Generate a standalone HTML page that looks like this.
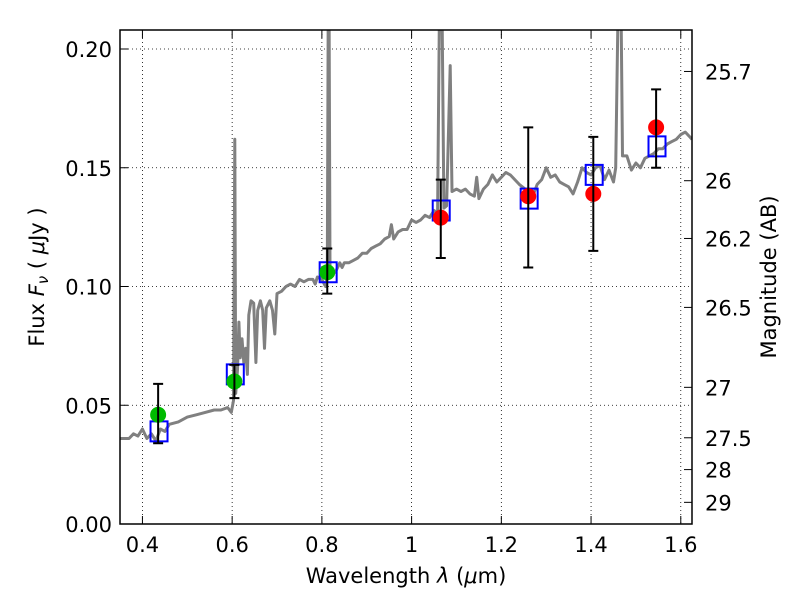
<!DOCTYPE html>
<html><head><meta charset="utf-8"><style>
body{margin:0;background:#fff;}
svg text{font-family:"DejaVu Sans","Liberation Sans",sans-serif;fill:#000;}
</style></head><body>
<svg id="chart" width="800" height="600" xmlns="http://www.w3.org/2000/svg">
<defs><clipPath id="clip"><rect x="120" y="30" width="572" height="494"/></clipPath></defs>
<rect x="0" y="0" width="800" height="600" fill="#fff"/>
<g id="grid"></g>
<g id="spec" clip-path="url(#clip)"></g>
<g id="pts"></g>
<rect x="120" y="30" width="572" height="494" fill="none" stroke="#000" stroke-width="1.5"/>
<g id="axes"></g>
<text x="406" y="583" font-size="21" text-anchor="middle">Wavelength  <tspan font-style="italic">λ</tspan> (<tspan font-style="italic">μ</tspan>m)</text>
<text transform="translate(44,277) rotate(-90)" font-size="21" text-anchor="middle">Flux  <tspan font-style="italic">F</tspan><tspan font-style="italic" font-size="15" dy="4">ν</tspan><tspan dy="-4">  ( </tspan><tspan font-style="italic">μ</tspan>Jy )</text>
<text transform="translate(776,277) rotate(-90)" font-size="21" text-anchor="middle">Magnitude (AB)</text>
</svg>
<script>
const xTicks=[0.4,0.6,0.8,1.0,1.2,1.4,1.6];
const xTickLabels=["0.4","0.6","0.8","1","1.2","1.4","1.6"];
const yTicks=[0,0.05,0.10,0.15,0.20];
const yTickLabels=["0.00","0.05","0.10","0.15","0.20"];
const magTicks=[25.7,26,26.2,26.5,27,27.5,28,29];
const magTickLabels=["25.7","26","26.2","26.5","27","27.5","28","29"];
const specWave=[0.35,0.37,0.38,0.39,0.40,0.41,0.42,0.43,0.44,0.45,0.46,0.48,0.50,0.52,0.54,0.56,0.575,0.59,0.598,0.603,0.606,0.608,0.612,0.615,0.618,0.622,0.626,0.630,0.634,0.637,0.642,0.648,0.653,0.657,0.663,0.668,0.672,0.676,0.684,0.690,0.695,0.700,0.71,0.72,0.73,0.74,0.75,0.76,0.77,0.78,0.785,0.79,0.80,0.808,0.812,0.814,0.816,0.818,0.83,0.84,0.845,0.85,0.86,0.87,0.88,0.89,0.90,0.91,0.92,0.93,0.94,0.95,0.955,0.96,0.97,0.98,0.99,1.00,1.01,1.02,1.03,1.04,1.05,1.058,1.062,1.068,1.072,1.078,1.086,1.09,1.10,1.11,1.12,1.13,1.14,1.145,1.15,1.16,1.17,1.18,1.19,1.20,1.21,1.22,1.24,1.26,1.27,1.28,1.29,1.30,1.31,1.32,1.33,1.34,1.35,1.36,1.37,1.38,1.39,1.40,1.41,1.42,1.43,1.44,1.45,1.455,1.46,1.467,1.47,1.48,1.49,1.50,1.51,1.52,1.53,1.54,1.55,1.56,1.57,1.58,1.59,1.60,1.61,1.62,1.625];
const specFlux=[0.036,0.036,0.038,0.037,0.040,0.036,0.038,0.035,0.040,0.039,0.042,0.043,0.045,0.046,0.047,0.048,0.048,0.049,0.047,0.052,0.162,0.055,0.065,0.085,0.070,0.078,0.068,0.074,0.063,0.088,0.094,0.093,0.068,0.090,0.094,0.090,0.074,0.091,0.094,0.090,0.080,0.097,0.098,0.100,0.101,0.100,0.103,0.102,0.103,0.103,0.101,0.104,0.103,0.100,0.105,0.215,0.215,0.107,0.106,0.110,0.108,0.110,0.110,0.111,0.112,0.114,0.114,0.116,0.117,0.118,0.120,0.121,0.126,0.120,0.123,0.124,0.124,0.128,0.127,0.128,0.130,0.129,0.132,0.131,0.215,0.215,0.133,0.134,0.193,0.140,0.141,0.140,0.141,0.139,0.138,0.146,0.137,0.141,0.143,0.147,0.144,0.146,0.148,0.147,0.143,0.140,0.138,0.143,0.145,0.150,0.146,0.147,0.144,0.143,0.142,0.139,0.144,0.150,0.148,0.147,0.150,0.151,0.145,0.149,0.144,0.150,0.215,0.215,0.155,0.155,0.149,0.152,0.150,0.154,0.155,0.156,0.158,0.158,0.160,0.161,0.162,0.164,0.165,0.163,0.162];
const obsWave=[0.435,0.605,0.812,1.065,1.26,1.405,1.545];
const obsFlux=[0.046,0.060,0.106,0.129,0.138,0.139,0.167];
const obsErrLo=[0.034,0.053,0.097,0.112,0.108,0.115,0.150];
const obsErrHi=[0.059,0.067,0.116,0.145,0.167,0.163,0.183];
const obsColor=["#00bb00","#00bb00","#00bb00","#ff0000","#ff0000","#ff0000","#ff0000"];
const modWave=[0.437,0.607,0.814,1.066,1.262,1.407,1.547];
const modFlux=[0.039,0.063,0.106,0.132,0.137,0.147,0.159];

const X0=120,X1=692,Y0=524,Y1=30,XMIN=0.35,XMAX=1.625,YMIN=0,YMAX=0.208;
const sx=v=>X0+(v-XMIN)/(XMAX-XMIN)*(X1-X0);
const sy=v=>Y0-(v-YMIN)/(YMAX-YMIN)*(Y0-Y1);
const magToFlux=m=>Math.pow(10,(23.9-m)/2.5);
const NS="http://www.w3.org/2000/svg";
function mk(tag,parent,attrs){const e=document.createElementNS(NS,tag);for(const k in attrs)e.setAttribute(k,attrs[k]);parent.appendChild(e);return e;}
const grid=document.getElementById('grid'),axes=document.getElementById('axes'),spec=document.getElementById('spec'),pts=document.getElementById('pts');
xTicks.forEach((t,i)=>{const x=sx(t);
 const g=mk('line',grid,{x1:x,x2:x,y1:Y1,y2:Y0,stroke:'#000','stroke-width':0.8,'stroke-dasharray':'1,3'});
 
 
 mk('line',axes,{x1:x,x2:x,y1:Y0,y2:Y0-8,stroke:'#000','stroke-width':1});
 mk('line',axes,{x1:x,x2:x,y1:Y1,y2:Y1+8,stroke:'#000','stroke-width':1});
 const tx=mk('text',axes,{x:x,y:Y0+28,'font-size':21,'text-anchor':'middle'});tx.textContent=xTickLabels[i];
 
 
});
yTicks.forEach((t,i)=>{const y=sy(t);
 if(t>0){const g=mk('line',grid,{x1:X0,x2:X1,y1:y,y2:y,stroke:'#000','stroke-width':0.8,'stroke-dasharray':'1,3'});
 
 }
 mk('line',axes,{x1:X0,x2:X0+8,y1:y,y2:y,stroke:'#000','stroke-width':1});
 const tx=mk('text',axes,{x:X0-8,y:y+8,'font-size':21,'text-anchor':'end'});tx.textContent=yTickLabels[i];
 
 
});
magTicks.forEach((m,i)=>{const y=sy(magToFlux(m));
 mk('line',axes,{x1:X1,x2:X1-8,y1:y,y2:y,stroke:'#000','stroke-width':1});
 const tx=mk('text',axes,{x:X1+13,y:y+8,'font-size':21,'text-anchor':'start'});tx.textContent=magTickLabels[i];
 
 
});
const d=specWave.map((w,i)=>(i?'L':'M')+sx(w).toFixed(1)+','+sy(specFlux[i]).toFixed(1)).join('');
const sp=mk('path',spec,{d:d,fill:'none',stroke:'#808080','stroke-width':3,'stroke-linejoin':'round'});


modWave.forEach((w,i)=>{const x=sx(w),y=sy(modFlux[i]);
 const r=mk('rect',pts,{x:x-8.5,y:y-10,width:17,height:20,fill:'none',stroke:'#0000ff','stroke-width':2});
 
 
});
obsWave.forEach((w,i)=>{const x=sx(w);
 const c=mk('circle',pts,{cx:x,cy:sy(obsFlux[i]),r:8,fill:obsColor[i]});
 
 
 const e=mk('path',pts,{d:`M${x},${sy(obsErrLo[i])}V${sy(obsErrHi[i])}M${x-5},${sy(obsErrLo[i])}h10M${x-5},${sy(obsErrHi[i])}h10`,stroke:'#000','stroke-width':2,fill:'none'});
 
 
});
</script>
</body></html>
